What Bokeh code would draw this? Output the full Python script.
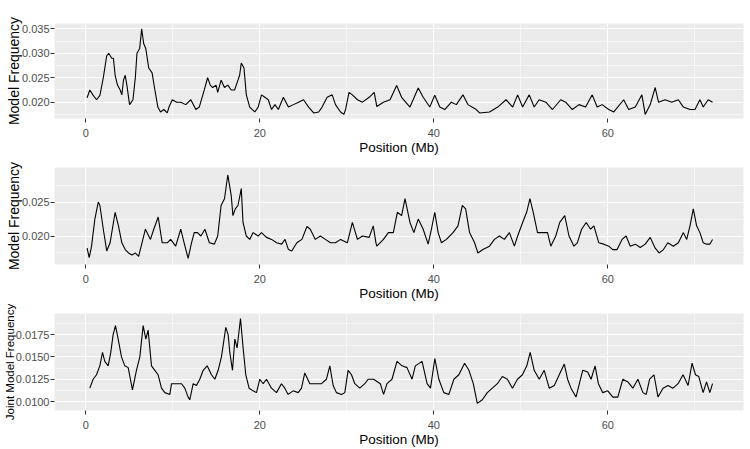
from bokeh.plotting import figure
from bokeh.layouts import column
from bokeh.models import Range1d, FixedTicker, NumeralTickFormatter
from bokeh.embed import file_html
from bokeh.resources import INLINE

# ---- data ----
x_ticks = [0, 20, 40, 60]
x_minor = [10, 30, 50, 70]
x_title = "Position (Mb)"

pos1 = [0.15, 0.46, 0.85, 1.24, 1.62, 2.01, 2.40, 2.63, 2.98, 3.17,
        3.37, 3.64, 3.95, 4.14, 4.33, 4.53, 4.72, 5.03, 5.42, 5.69,
        5.88, 6.19, 6.42, 6.65, 6.89, 7.23, 7.62, 7.89, 8.28, 8.59,
        8.97, 9.36, 9.56, 9.94, 10.44, 10.91, 11.49, 12.07, 12.65, 13.04,
        13.62, 14.00, 14.31, 14.58, 14.97, 15.16, 15.55, 15.94, 16.32, 16.71,
        17.10, 17.49, 17.68, 17.87, 18.18, 18.45, 18.84, 19.42, 19.81, 20.19,
        20.58, 20.97, 21.35, 21.74, 22.13, 22.71, 23.29, 23.87, 24.45, 25.03,
        25.61, 26.19, 26.77, 27.16, 27.74, 28.32, 28.70, 29.28, 29.67, 29.86,
        30.25, 30.64, 31.22, 31.80, 32.57, 33.15,
        33.45, 34.21, 34.97, 35.73, 36.30, 37.26, 38.21, 38.78, 39.54, 40.11,
        40.69, 41.26, 42.02, 42.59, 43.35, 43.92, 44.88, 45.26, 46.40, 47.35,
        48.30, 49.07, 49.64, 50.21, 50.97, 51.54, 52.11, 52.88, 53.64, 54.59,
        55.16, 55.92, 56.69, 57.45, 58.21, 58.78, 59.35, 60.11, 60.69, 61.83,
        62.40, 63.16, 63.92, 64.30, 64.88, 65.45, 65.83, 66.59, 67.35, 68.11,
        68.69, 69.45, 70.02, 70.59, 70.97, 71.54, 72.04]
freq1 = [0.0209, 0.0225, 0.0214, 0.0205, 0.0214, 0.0250, 0.0295, 0.0300, 0.0290, 0.0290,
         0.0255, 0.0235, 0.0225, 0.0215, 0.0245, 0.0255, 0.0235, 0.0195, 0.0205, 0.0250,
         0.0300, 0.0310, 0.0350, 0.0320, 0.0310, 0.0270, 0.0260, 0.0230, 0.0190, 0.0180,
         0.0185, 0.0178, 0.0190, 0.0205, 0.0200, 0.0200, 0.0195, 0.0205, 0.0185, 0.0190,
         0.0225, 0.0250, 0.0235, 0.0230, 0.0235, 0.0220, 0.0245, 0.0230, 0.0235, 0.0225,
         0.0225, 0.0245, 0.0255, 0.0280, 0.0270, 0.0215, 0.0190, 0.0180, 0.0190, 0.0215,
         0.0210, 0.0205, 0.0185, 0.0195, 0.0185, 0.0210, 0.0190, 0.0195, 0.0200, 0.0205,
         0.0190, 0.0178, 0.0180, 0.0190, 0.0210, 0.0215, 0.0195, 0.0180, 0.0175, 0.0185,
         0.0220, 0.0215, 0.0205, 0.0200, 0.0210, 0.0220,
         0.0191, 0.0200, 0.0205, 0.0234, 0.0210, 0.0190, 0.0229, 0.0210, 0.0190, 0.0214,
         0.0190, 0.0185, 0.0200, 0.0195, 0.0215, 0.0195, 0.0185, 0.0178, 0.0180, 0.0190,
         0.0205, 0.0190, 0.0215, 0.0190, 0.0215, 0.0190, 0.0205, 0.0200, 0.0185, 0.0205,
         0.0200, 0.0185, 0.0195, 0.0190, 0.0215, 0.0190, 0.0195, 0.0185, 0.0180, 0.0205,
         0.0185, 0.0190, 0.0215, 0.0175, 0.0195, 0.0230, 0.0200, 0.0205, 0.0200, 0.0205,
         0.0190, 0.0185, 0.0185, 0.0205, 0.0190, 0.0205, 0.0200]

pos2 = [0.15, 0.39, 0.66, 1.04, 1.43, 1.62, 2.01, 2.40, 2.79, 3.37,
        3.75, 4.14, 4.53, 4.91, 5.30, 5.69, 6.07, 6.46, 6.85, 7.43,
        7.81, 8.32, 8.78, 9.36, 9.75, 10.33, 10.91, 11.30, 11.76, 12.15,
        12.46, 12.84, 13.23, 13.69, 14.20, 14.78, 15.16, 15.55, 15.94, 16.32,
        16.71, 16.91, 17.18, 17.49, 17.87, 18.07, 18.45, 18.84, 19.23, 19.81,
        20.19, 20.77, 21.35, 21.93, 22.51, 22.90, 23.29, 23.67, 24.26, 24.84,
        25.42, 25.80, 26.38, 26.96, 27.54, 28.12, 28.70, 29.28, 30.06, 30.64,
        31.22, 31.80, 32.57, 33.04, 33.35,
        33.45, 34.21, 34.78, 35.35, 35.81, 36.30, 36.69, 37.26, 37.71, 38.21,
        38.78, 39.35, 39.73, 40.11, 40.50, 40.88, 41.45, 42.21, 42.78, 43.28,
        43.66, 44.11, 44.69, 45.07, 45.64, 46.40, 46.97, 47.54, 48.11, 48.69,
        49.26, 49.64, 50.21, 50.67, 51.05, 51.43, 51.92, 52.50, 53.07, 53.45,
        54.02, 54.48, 55.05, 55.54, 56.11, 56.50, 56.99, 57.52, 58.02, 58.40,
        58.97, 59.54, 60.11, 60.57, 61.07, 61.64, 62.10, 62.59, 63.16, 63.73,
        64.30, 64.88, 65.45, 65.90, 66.40, 66.90, 67.54, 68.11, 68.69, 69.07,
        69.45, 69.83, 70.21, 70.59, 70.97, 71.35, 71.73, 72.04]
freq2 = [0.0182, 0.0168, 0.0185, 0.0225, 0.0250, 0.0245, 0.0210, 0.0178, 0.0190, 0.0235,
         0.0215, 0.0190, 0.0180, 0.0175, 0.0172, 0.0175, 0.0170, 0.0190, 0.0210, 0.0195,
         0.0210, 0.0228, 0.0190, 0.0190, 0.0195, 0.0185, 0.0210, 0.0190, 0.0167, 0.0190,
         0.0205, 0.0205, 0.0200, 0.0210, 0.0190, 0.0188, 0.0200, 0.0245, 0.0255, 0.0290,
         0.0260, 0.0230, 0.0240, 0.0245, 0.0270, 0.0220, 0.0200, 0.0195, 0.0205, 0.0200,
         0.0205, 0.0198, 0.0195, 0.0190, 0.0188, 0.0195, 0.0180, 0.0178, 0.0190, 0.0195,
         0.0214, 0.0210, 0.0195, 0.0200, 0.0195, 0.0190, 0.0190, 0.0195, 0.0190, 0.0220,
         0.0195, 0.0200, 0.0198, 0.0215, 0.0190,
         0.0185, 0.0195, 0.0205, 0.0205, 0.0235, 0.0230, 0.0255, 0.0220, 0.0205, 0.0225,
         0.0210, 0.0188, 0.0210, 0.0235, 0.0205, 0.0190, 0.0195, 0.0205, 0.0215, 0.0245,
         0.0240, 0.0205, 0.0190, 0.0175, 0.0180, 0.0185, 0.0195, 0.0200, 0.0195, 0.0205,
         0.0185, 0.0200, 0.0220, 0.0235, 0.0255, 0.0235, 0.0205, 0.0205, 0.0205, 0.0185,
         0.0200, 0.0220, 0.0230, 0.0200, 0.0185, 0.0190, 0.0210, 0.0220, 0.0210, 0.0215,
         0.0190, 0.0188, 0.0185, 0.0180, 0.0180, 0.0195, 0.0200, 0.0185, 0.0188, 0.0183,
         0.0188, 0.0198, 0.0182, 0.0175, 0.0180, 0.0190, 0.0185, 0.0190, 0.0205, 0.0195,
         0.0215, 0.0240, 0.0215, 0.0205, 0.0190, 0.0188, 0.0188, 0.0195]

pos3 = [0.46, 0.84, 1.23, 1.61, 1.92, 2.18, 2.57, 2.87, 3.14, 3.41,
        3.72, 4.10, 4.48, 4.87, 5.36, 5.82, 6.21, 6.59, 6.90, 7.16,
        7.55, 7.93, 8.31, 8.70, 9.08, 9.66, 9.85, 10.42, 11.00, 11.38,
        11.76, 11.95, 12.34, 12.72, 13.10, 13.49, 13.95, 14.44, 14.83, 15.21,
        15.59, 16.09, 16.36, 16.55, 16.86, 17.13, 17.39, 17.78, 18.08, 18.39,
        18.77, 19.23, 19.62, 20.00, 20.38, 20.77, 21.34, 21.92, 22.49, 22.87,
        23.26, 23.83, 24.41, 24.79, 25.17, 25.75, 26.51, 27.09, 27.66, 28.05,
        28.43, 28.81, 29.39, 29.77, 30.15, 30.54, 30.92, 31.49, 32.07, 32.45,
        33.08, 33.85, 34.23, 34.62, 35.19, 35.77, 36.35, 36.92, 37.50, 37.88,
        38.65, 39.23, 39.62, 40.12, 40.58, 41.15, 41.73, 42.31, 42.88, 43.54,
        44.04, 44.54, 45.00, 45.58, 46.15, 46.73, 47.31, 47.88, 48.46, 49.04,
        49.62, 50.19, 50.69, 51.08, 51.54, 52.12, 52.69, 53.27, 53.85, 54.42,
        55.00, 55.38, 55.77, 56.35, 56.73, 57.12, 57.69, 58.08, 58.54, 58.92,
        59.42, 60.00, 60.58, 61.15, 61.73, 62.31, 62.88, 63.46, 64.04, 64.42,
        64.81, 65.31, 65.77, 66.35, 66.92, 67.50, 68.08, 68.65, 69.23, 69.69,
        70.08, 70.46, 70.96, 71.35, 71.73, 72.04]
freq3 = [0.0115, 0.0125, 0.0130, 0.0140, 0.0155, 0.0145, 0.0140, 0.0155, 0.0175, 0.0185,
         0.0170, 0.0150, 0.0140, 0.0138, 0.0113, 0.0135, 0.0150, 0.0185, 0.0170, 0.0180,
         0.0140, 0.0135, 0.0130, 0.0115, 0.0110, 0.0108, 0.0120, 0.0120, 0.0120, 0.0115,
         0.0105, 0.0102, 0.0120, 0.0118, 0.0125, 0.0135, 0.0140, 0.0130, 0.0125, 0.0135,
         0.0150, 0.0183, 0.0175, 0.0155, 0.0135, 0.0170, 0.0160, 0.0193, 0.0160, 0.0130,
         0.0115, 0.0112, 0.0110, 0.0125, 0.0120, 0.0125, 0.0115, 0.0110, 0.0120, 0.0115,
         0.0108, 0.0112, 0.0110, 0.0115, 0.0132, 0.0120, 0.0120, 0.0120, 0.0125, 0.0140,
         0.0118, 0.0110, 0.0108, 0.0110, 0.0135, 0.0130, 0.0120, 0.0115, 0.0120, 0.0125,
         0.0125, 0.0120, 0.0108, 0.0120, 0.0125, 0.0145, 0.0140, 0.0138, 0.0125, 0.0140,
         0.0145, 0.0120, 0.0115, 0.0148, 0.0125, 0.0110, 0.0108, 0.0125, 0.0130, 0.0143,
         0.0135, 0.0120, 0.0098, 0.0102, 0.0110, 0.0115, 0.0120, 0.0128, 0.0125, 0.0115,
         0.0125, 0.0130, 0.0140, 0.0155, 0.0135, 0.0125, 0.0135, 0.0115, 0.0118, 0.0130,
         0.0142, 0.0125, 0.0115, 0.0105, 0.0120, 0.0135, 0.0133, 0.0125, 0.0140, 0.0120,
         0.0110, 0.0112, 0.0105, 0.0105, 0.0125, 0.0122, 0.0115, 0.0125, 0.0110, 0.0108,
         0.0125, 0.0130, 0.0105, 0.0115, 0.0118, 0.0115, 0.0120, 0.0130, 0.0118, 0.0143,
         0.0130, 0.0128, 0.0110, 0.0122, 0.0110, 0.0120]

y_titles = ["Model Frequency", "Model Frequency", "Joint Model Frequency"]
y_ticks1 = [0.020, 0.025, 0.030, 0.035]
y_minor1 = [0.0175, 0.0225, 0.0275, 0.0325]
y_ticks2 = [0.020, 0.025]
y_minor2 = [0.0175, 0.0225, 0.0275]
y_ticks3 = [0.0100, 0.0125, 0.0150, 0.0175]
y_minor3 = [0.01125, 0.01375, 0.01625, 0.01875]

FONT = "Liberation Sans"


def make_panel(xs, ys, height, top, bottom, ylabel, ysize, yr, yticks, yminor, fmt):
    p = figure(width=750, height=height, output_backend="svg", toolbar_location=None,
               x_range=Range1d(-3.6, 75.6), y_range=Range1d(*yr),
               min_border_top=top, min_border_bottom=bottom,
               min_border_left=0, min_border_right=7)
    p.line(xs, ys, line_color="black", line_width=1.1)
    p.background_fill_color = "#EBEBEB"
    p.border_fill_color = "white"
    p.outline_line_color = None

    p.xaxis.ticker = FixedTicker(ticks=x_ticks, minor_ticks=x_minor)
    p.yaxis.ticker = FixedTicker(ticks=yticks, minor_ticks=yminor)
    p.yaxis.formatter = NumeralTickFormatter(format=fmt)
    p.xaxis.axis_label = x_title
    p.yaxis.axis_label = ylabel

    for ax in (p.xaxis[0], p.yaxis[0]):
        ax.axis_line_color = None
        ax.major_tick_line_color = "#333333"
        ax.major_tick_out = 4
        ax.major_tick_in = 0
        ax.minor_tick_line_color = None
        ax.major_label_text_font = FONT
        ax.major_label_text_font_size = "11px"
        ax.major_label_text_color = "#4D4D4D"
        ax.axis_label_text_font = FONT
        ax.axis_label_text_font_style = "normal"
        ax.axis_label_text_color = "black"
    p.xaxis.major_label_standoff = 6
    p.xaxis.axis_label_standoff = 0
    p.yaxis.major_label_standoff = 1
    p.yaxis.axis_label_standoff = -3
    p.xaxis.axis_label_text_font_size = "13.5px"
    p.yaxis.axis_label_text_font_size = ysize

    for g in (p.xgrid[0], p.ygrid[0]):
        g.grid_line_color = "white"
        g.grid_line_width = 1.1
        g.minor_grid_line_color = "white"
        g.minor_grid_line_width = 0.55
    return p


p1 = make_panel(pos1, freq1, 157, 23, 39, y_titles[0], "14px",
                (0.01666, 0.0361), y_ticks1, y_minor1, "0.000")
p2 = make_panel(pos2, freq2, 146, 10, 39, y_titles[1], "14px",
                (0.0158, 0.0301), y_ticks2, y_minor2, "0.000")
p3 = make_panel(pos3, freq3, 146, 10, 39, y_titles[2], "11.5px",
                (0.0090, 0.01986), y_ticks3, y_minor3, "0.0000")

layout = column(p1, p2, p3, spacing=0)
open("out.html", "w").write(file_html(layout, INLINE))
